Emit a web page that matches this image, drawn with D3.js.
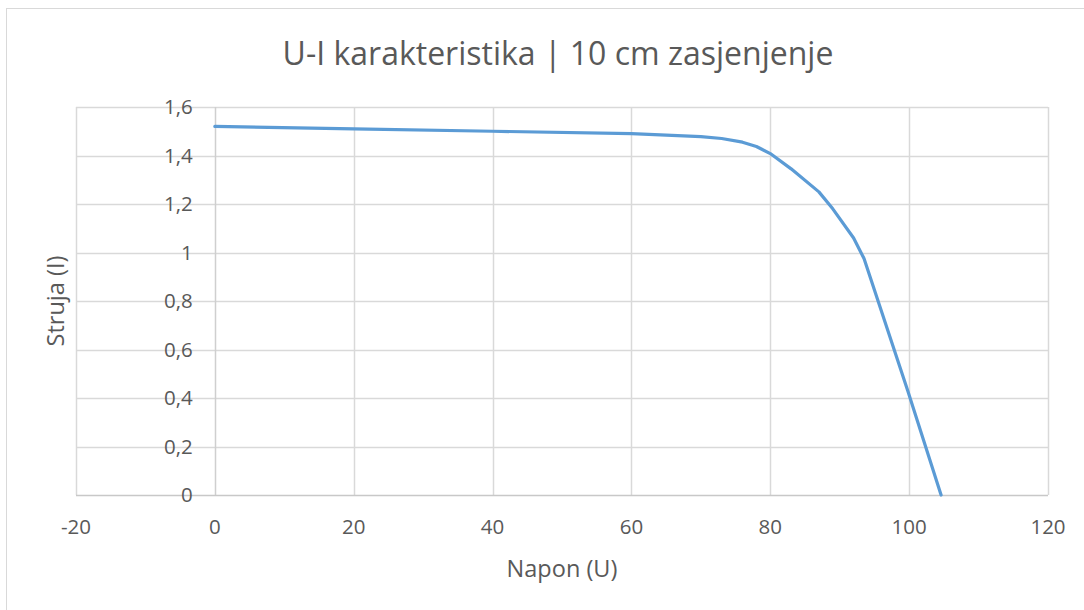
<!DOCTYPE html>
<html>
<head>
<meta charset="utf-8">
<script src="https://cdn.jsdelivr.net/npm/d3@7"></script>
<style>
  html, body { margin: 0; padding: 0; background: #fff; }
  svg { display: block; }
  text { font-family: "Open Sans", sans-serif; fill: #595959; }
</style>
</head>
<body>
<svg id="chart" width="1084" height="610"></svg>
<script>
const napon = [0, 20, 40, 60, 70, 73, 76, 78, 80, 83, 87, 89, 92, 93.5, 99.8, 104.6];
const struja = [1.52, 1.51, 1.50, 1.49, 1.478, 1.47, 1.455, 1.437, 1.408, 1.345, 1.25, 1.18, 1.06, 0.975, 0.43, 0];
const xTicks = [-20, 0, 20, 40, 60, 80, 100, 120];
const yTicks = [0, 0.2, 0.4, 0.6, 0.8, 1, 1.2, 1.4, 1.6];
const title = "U-I karakteristika | 10 cm zasjenjenje";
const xTitle = "Napon (U)";
const yTitle = "Struja (I)";

const svg = d3.select("#chart");
const plot = { left: 76, right: 1048, top: 107, bottom: 495 };

const x = d3.scaleLinear().domain([-20, 120]).range([plot.left, plot.right]);
const y = d3.scaleLinear().domain([0, 1.6]).range([plot.bottom, plot.top]);

// chart border
svg.append("rect").attr("x", 6.5).attr("y", 8.5).attr("width", 1090).attr("height", 620)
  .attr("fill", "#fff").attr("stroke", "#d9d9d9").attr("stroke-width", 1);

const fmt = d => String(d).replace(".", ",");

// horizontal gridlines
svg.append("g").selectAll("line").data(yTicks.filter(d => d !== 0)).join("line")
  .attr("x1", plot.left).attr("x2", plot.right)
  .attr("y1", d => Math.round(y(d)) + 0.5).attr("y2", d => Math.round(y(d)) + 0.5)
  .attr("stroke", "#d9d9d9").attr("stroke-width", 1.5);

// vertical gridlines
svg.append("g").selectAll("line").data(xTicks).join("line")
  .attr("y1", plot.top).attr("y2", plot.bottom)
  .attr("x1", d => Math.round(x(d)) + 0.5).attr("x2", d => Math.round(x(d)) + 0.5)
  .attr("stroke", d => d === 0 ? "#cfcfcf" : "#d9d9d9").attr("stroke-width", 1.5);

// x axis line (y = 0)
svg.append("line").attr("x1", plot.left).attr("x2", plot.right)
  .attr("y1", Math.round(y(0)) + 0.5).attr("y2", Math.round(y(0)) + 0.5)
  .attr("stroke", "#c8c8c8").attr("stroke-width", 1.5);

// y tick labels (next to the x=0 axis)
svg.append("g").selectAll("text").data(yTicks).join("text")
  .attr("x", x(0) - 22).attr("y", d => y(d))
  .attr("dy", "0.35em").attr("text-anchor", "end")
  .attr("font-size", 20.5).text(fmt);

// x tick labels
svg.append("g").selectAll("text").data(xTicks).join("text")
  .attr("x", d => x(d)).attr("y", 534)
  .attr("text-anchor", "middle").attr("font-size", 20.5).text(fmt);

// line
const line = d3.line().x(d => x(d[0])).y(d => y(d[1]));
svg.append("path").datum(napon.map((v, i) => [v, struja[i]]))
  .attr("d", line).attr("fill", "none").attr("stroke", "#5b9bd5")
  .attr("stroke-width", 3.2).attr("stroke-linejoin", "round").attr("stroke-linecap", "round");

// title
svg.append("text").attr("x", 558).attr("y", 65).attr("text-anchor", "middle")
  .attr("font-size", 32).text(title);

// axis titles
svg.append("text").attr("x", 562).attr("y", 577).attr("text-anchor", "middle")
  .attr("font-size", 23.5).text(xTitle);
svg.append("text").attr("transform", "translate(64,301) rotate(-90)")
  .attr("text-anchor", "middle").attr("font-size", 23.5).text(yTitle);
</script>
</body>
</html>
